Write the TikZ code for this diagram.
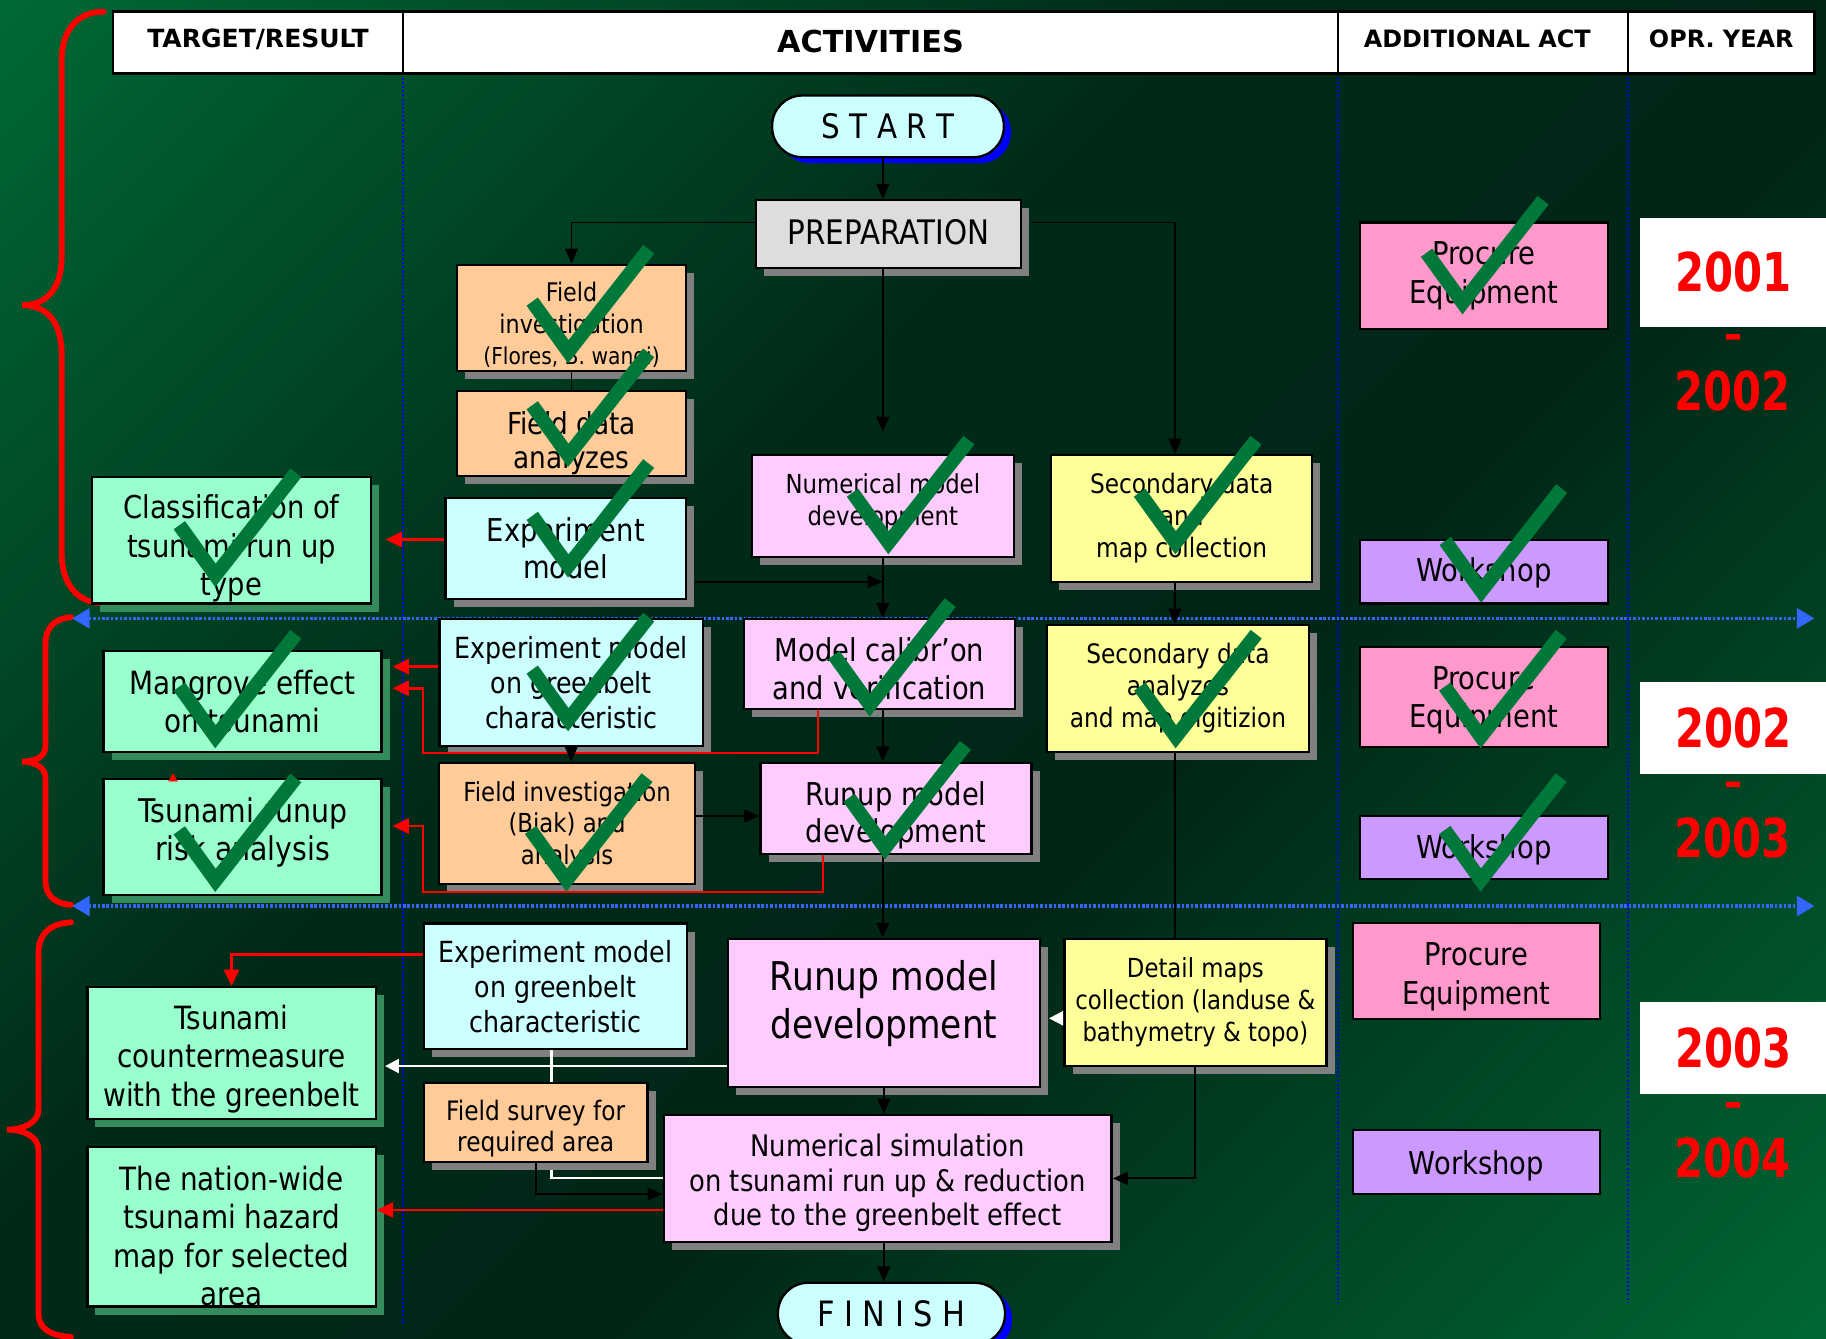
\documentclass[tikz,border=0pt]{standalone}
\usepackage{fontspec}
\setmainfont{DejaVu Sans}[FakeStretch=0.87]
\newfontfamily\hdfont{DejaVu Sans}
\newfontfamily\yrfont{DejaVu Sans}[FakeStretch=0.78]
\newfontfamily\dashfont{DejaVu Sans}[FakeStretch=1.4,FakeBold=4]
\usetikzlibrary{arrows.meta}
\definecolor{bgA}{RGB}{0,104,52}
\definecolor{bgM}{RGB}{0,42,24}
\definecolor{bgN}{RGB}{0,38,22}
\definecolor{bgB}{RGB}{0,102,50}
\definecolor{cyanbox}{RGB}{204,255,255}
\definecolor{orangebox}{RGB}{255,204,153}
\definecolor{pinkbox}{RGB}{255,204,255}
\definecolor{yellowbox}{RGB}{255,255,153}
\definecolor{greenbox}{RGB}{153,255,204}
\definecolor{procbox}{RGB}{255,153,204}
\definecolor{wsbox}{RGB}{204,153,255}
\definecolor{prepbox}{RGB}{221,221,221}
\definecolor{shgray}{RGB}{128,128,128}
\definecolor{shgreen}{RGB}{52,140,92}
\definecolor{chkgreen}{RGB}{0,120,58}
\definecolor{hblue}{RGB}{51,102,255}
\definecolor{vblue}{RGB}{0,0,255}
\definecolor{pillshadow}{RGB}{0,0,255}
\pgfdeclarehorizontalshading{bgshade}{100bp}{color(0bp)=(bgA); color(15bp)=(bgA); color(42bp)=(bgM); color(58bp)=(bgN); color(85bp)=(bgB); color(100bp)=(bgB)}
\newcommand\boxtext[4]{\node[inner sep=0pt,align=center,font=#2] (#1T) at ([yshift=#3]#1.center) {#4};}
\newcommand\fs[2]{\fontsize{#1}{#2}\selectfont}
\begin{document}
\begin{tikzpicture}[x=1pt,y=-1pt,
  base/.style={draw=black,line width=2pt,inner sep=0pt,align=center},
  gsh/.style={preaction={fill=shgray,transform canvas={shift={(7,7)}}}},
  tsh/.style={preaction={fill=shgreen,transform canvas={shift={(7,7)}}}},
  cyanb/.style={base,gsh,fill=cyanbox},
  orb/.style={base,gsh,fill=orangebox},
  pkb/.style={base,gsh,fill=pinkbox},
  ylb/.style={base,gsh,fill=yellowbox},
  gnb/.style={base,tsh,fill=greenbox},
  prb/.style={base,fill=procbox},
  wsb/.style={base,fill=wsbox},
  ppb/.style={base,gsh,fill=prepbox},
  pill/.style={base,fill=cyanbox,rounded corners=26pt,preaction={fill=pillshadow,transform canvas={shift={(6,5)}}}},
  hdr/.style={draw=black,line width=2pt,fill=white,inner sep=0pt},
  hdtxt/.style={inner sep=0pt,font=\hdfont\bfseries\fs{20.5}{24}},
  yrbox/.style={fill=white,inner sep=0pt,text=red,font=\yrfont\bfseries\fs{46}{50}},
  yrtxt/.style={text=red,inner sep=0pt,font=\yrfont\bfseries\fs{46}{50}},
  yrdash/.style={text=red,inner sep=0pt,font=\dashfont\bfseries\fs{26}{30}},
  blk/.style={draw=black,line width=1.6pt,-{Triangle[length=13pt,width=11pt]}},
  blkl/.style={draw=black,line width=1.6pt},
  redarr/.style={draw=red,line width=2.2pt,-{Triangle[length=14pt,width=13pt]}},
  whl/.style={draw=white,line width=2pt},
  wharr/.style={whl,-{Triangle[length=12pt,width=12pt]}},
  bracepath/.style={draw=red,line width=5pt,line cap=round},
  hsep/.style={draw=hblue,line width=3pt,dash pattern=on 2.2pt off 1.6pt,{Triangle[length=15pt,width=17pt]}-{Triangle[length=15pt,width=17pt]}},
  vsep/.style={draw=vblue,line width=1.8pt,dash pattern=on 1.8pt off 1.8pt},
  chkline/.style={draw=chkgreen,line width=12pt,line join=miter,line cap=butt},
  chk/.pic={\draw[chkline] (-31,-43) -- (0,0) -- (69,-88);}
]
\useasboundingbox (0,0) rectangle (1568,1149);
\shade[shading=bgshade,shading angle=-45] (0,0) rectangle (1568,1149);

% braces
\draw[bracepath] (89,10) .. controls (65,10) and (53,28) .. (53,51) -- (53,220)
  .. controls (53,248) and (40,262) .. (19,262) .. controls (40,262) and (53,276) .. (53,305)
  -- (53,475) .. controls (53,500) and (65,518) .. (89,518);
\draw[bracepath] (61,530) .. controls (46,531) and (39,540) .. (39,553) -- (39,641)
  .. controls (39,650) and (30,654) .. (19,654) .. controls (30,654) and (39,659) .. (39,668)
  -- (39,756) .. controls (39,768) and (46,776) .. (61,777);
\draw[bracepath] (61,792) .. controls (42,793) and (33,803) .. (33,818) -- (33,953)
  .. controls (33,964) and (20,970) .. (6,970) .. controls (20,970) and (33,976) .. (33,987)
  -- (33,1128) .. controls (33,1140) and (42,1147) .. (61,1148);

% separators
\draw[vsep] (346,63) -- (346,1136);
\draw[vsep] (1149,63) -- (1149,1119);
\draw[vsep] (1398,63) -- (1398,1119);
\draw[hsep] (62,531) -- (1558,531);
\draw[hsep] (62,778) -- (1558,778);

% header
\node[hdr,minimum width=249pt,minimum height=53pt] (h1) at (221.5,36.5) {};
\node[hdr,minimum width=803pt,minimum height=53pt] (h2) at (747.5,36.5) {};
\node[hdr,minimum width=249pt,minimum height=53pt] (h3) at (1273.5,36.5) {};
\node[hdr,minimum width=160pt,minimum height=53pt] (h4) at (1478,36.5) {};
\node[hdtxt,font=\hdfont\bfseries\fs{21.5}{24}] (h1T) at ([yshift=3pt]h1.center) {TARGET/RESULT};
\node[hdtxt,font=\hdfont\bfseries\fs{26}{30}] (h2T) at ([yshift=1pt]h2.center) {ACTIVITIES};
\node[hdtxt] (h3T) at ([yshift=3pt,xshift=-5pt]h3.center) {ADDITIONAL ACT};
\node[hdtxt] (h4T) at ([yshift=3pt]h4.center) {OPR. YEAR};

% years
\node[yrbox,minimum width=160pt,minimum height=93.4pt] (y1) at (1488.35,233.7) {2001};
\node[yrdash] (y1d) at (1488,292) {-};
\node[yrtxt] (y1b) at (1488,335.4) {2002};
\node[yrbox,minimum width=160pt,minimum height=79pt] (y2) at (1488.35,625.5) {2002};
\node[yrdash] (y2d) at (1488,676.4) {-};
\node[yrtxt] (y2b) at (1488,719.6) {2003};
\node[yrbox,minimum width=160pt,minimum height=79pt] (y3) at (1488.35,900.2) {2003};
\node[yrdash] (y3d) at (1488,951.6) {-};
\node[yrtxt] (y3b) at (1488,994.6) {2004};

% boxes row 1
\node[pill,minimum width=199pt,minimum height=53pt,font=\fs{29}{34}] (start) at (762.5,108.5) {S T A R T};
\node[ppb,minimum width=228pt,minimum height=58pt] (prep) at (763,201) {};
\node[orb,minimum width=196.4pt,minimum height=91pt] (fi1) at (490.8,272.9) {};
\node[orb,minimum width=196.4pt,minimum height=73pt] (fda) at (490.8,372.5) {};
\node[cyanb,minimum width=206.4pt,minimum height=86.5pt] (exp1) at (485.8,471) {};
\node[gnb,minimum width=239.6pt,minimum height=108.6pt] (cls) at (198.8,464) {};
\node[pkb,minimum width=225pt,minimum height=87.3pt] (num1) at (758.1,434.4) {};
\node[ylb,minimum width=224.1pt,minimum height=108.8pt] (sec1) at (1014.7,445.1) {};
\node[prb,minimum width=213.1pt,minimum height=91.7pt] (pro1) at (1274.2,236.9) {};
\node[wsb,minimum width=213.1pt,minimum height=54.6pt] (ws1) at (1274.2,491) {};

% row 2
\node[gnb,minimum width=238.6pt,minimum height=87.2pt] (mang) at (208.3,602.4) {};
\node[gnb,minimum width=238.6pt,minimum height=99.6pt] (trr) at (208.3,718.8) {};
\node[cyanb,minimum width=226.4pt,minimum height=108.7pt] (exp2) at (490.5,586) {};
\node[pkb,minimum width=232.6pt,minimum height=77.2pt] (cal) at (755.3,570.2) {};
\node[ylb,minimum width=225pt,minimum height=108.8pt] (sec2) at (1011.5,591.1) {};
\node[orb,minimum width=219.5pt,minimum height=104pt] (fib) at (487,707) {};
\node[pkb,minimum width=232.8pt,minimum height=78.4pt] (run2) at (769.4,694.2) {};
\node[prb,minimum width=213.1pt,minimum height=85.9pt] (pro2) at (1274.2,598.3) {};
\node[wsb,minimum width=213.1pt,minimum height=53.9pt] (ws2) at (1274.2,727.7) {};

% row 3
\node[cyanb,minimum width=226pt,minimum height=108pt] (exp3) at (477,847) {};
\node[pkb,minimum width=267.8pt,minimum height=126.8pt] (run3) at (758.9,869.8) {};
\node[ylb,minimum width=225pt,minimum height=108.7pt] (det) at (1026.5,860.8) {};
\node[gnb,minimum width=247.6pt,minimum height=113.4pt] (tcm) at (198.8,904.3) {};
\node[orb,minimum width=192pt,minimum height=68.3pt] (fsv) at (460,963.9) {};
\node[pkb,minimum width=384.5pt,minimum height=108.8pt] (nsim) at (762.3,1011.9) {};
\node[gnb,minimum width=247.6pt,minimum height=137pt] (nwm) at (198.8,1053.5) {};
\node[pill,minimum width=195pt,minimum height=53pt,font=\fs{30}{34}] (finish) at (765.5,1128) {F I N I S H};
\node[prb,minimum width=212.4pt,minimum height=82.7pt] (pro3) at (1267.8,833.7) {};
\node[wsb,minimum width=212.4pt,minimum height=54.9pt] (ws3) at (1267.8,997.9) {};

% box texts
\boxtext{prep}{\fs{29}{32}}{2pt}{PREPARATION}
\boxtext{fi1}{\fs{22}{27}}{-7pt}{Field\\investigation\\{\fs{20}{25}(Flores, B. wangi)}}
\boxtext{fda}{\fs{26}{30}}{-8pt}{Field data\\analyzes}
\boxtext{exp1}{\fs{27}{32}}{0pt}{Experiment\\model}
\boxtext{cls}{\fs{27}{33}}{-7pt}{Classification of\\tsunami run up\\type}
\boxtext{num1}{\fs{22.5}{28}}{3pt}{Numerical model\\development}
\boxtext{sec1}{\fs{23}{27.5}}{0pt}{Secondary data\\and\\map collection}
\boxtext{pro1}{\fs{27}{33}}{0pt}{Procure\\Equipment}
\boxtext{ws1}{\fs{27}{33}}{-1pt}{Workshop}
\boxtext{mang}{\fs{27.5}{33}}{0pt}{Mangrove effect\\on tsunami}
\boxtext{trr}{\fs{28}{33}}{4pt}{Tsunami runup\\risk analysis}
\boxtext{exp2}{\fs{25}{30}}{0pt}{Experiment model\\on greenbelt\\characteristic}
\boxtext{cal}{\fs{27}{33}}{-4pt}{Model calibr'on\\and verification}
\boxtext{sec2}{\fs{23}{27.5}}{0pt}{Secondary data\\analyzes\\and map digitizion}
\boxtext{fib}{\fs{22.5}{27}}{-2pt}{Field investigation\\(Biak) and\\analysis}
\boxtext{run2}{\fs{27}{32}}{-6pt}{Runup model\\development}
\boxtext{pro2}{\fs{27}{33}}{-3pt}{Procure\\Equipment}
\boxtext{ws2}{\fs{27}{33}}{-2pt}{Workshop}
\boxtext{exp3}{\fs{25}{30}}{0pt}{Experiment model\\on greenbelt\\characteristic}
\boxtext{run3}{\fs{34}{41}}{8pt}{Runup model\\development}
\boxtext{det}{\fs{22.5}{27.5}}{0pt}{Detail maps\\collection (landuse \&\\bathymetry \& topo)}
\boxtext{tcm}{\fs{27.5}{33}}{-5pt}{Tsunami\\countermeasure\\with the greenbelt}
\boxtext{fsv}{\fs{23}{27}}{-5pt}{Field survey for\\required area}
\boxtext{nsim}{\fs{25.5}{29.5}}{-4pt}{Numerical simulation\\on tsunami run up \& reduction\\due to the greenbelt effect}
\boxtext{nwm}{\fs{27.5}{33}}{-8pt}{The nation-wide\\tsunami hazard\\map for selected\\area}
\boxtext{pro3}{\fs{27}{33}}{-5pt}{Procure\\Equipment}
\boxtext{ws3}{\fs{27}{33}}{-3pt}{Workshop}

% connectors
\coordinate (colS) at (1009,0);
\draw[blk] (start.south -| num1.south) -- (num1.south |- prep.north);
\draw[blk] ([yshift=10pt]prep.west) -| (fi1.north);
\draw[blkl] (fi1.south) -- (fda.north);
\draw[blk,shorten >=19pt] (prep.south -| num1.north) -- (num1.north);
\draw[blk] ([yshift=10pt,xshift=7pt]prep.east) -| (colS |- sec1.north);
\coordinate (e1) at ([yshift=-28.5pt]exp1.east);
\draw[blk] ([xshift=7pt]e1) -- (e1 -| num1.south);
\draw[blk] (num1.south) -- (num1.south |- cal.north);
\draw[blk] (colS |- sec1.south) -- (colS |- sec2.north);
\coordinate (e2) at ([yshift=7.7pt]exp1.west);
\draw[redarr,shorten >=11.4pt] (e2) -- (e2 -| cls.east);
\coordinate (e3) at ([yshift=13.5pt]exp2.west);
\draw[redarr,shorten >=8.5pt] (e3) -- (e3 -| mang.east);
\draw[redarr] ([xshift=-52.8pt]cal.south) -- ++(0,36.7) -- ++(-339.2,0) |- ([yshift=11.4pt,xshift=8.5pt]mang.east);
\draw[blk] (exp2.south) -- (exp2.south |- fib.north);
\draw[blk] (num1.south |- cal.south) -- (num1.south |- run2.north);
\coordinate (r2w) at ([yshift=-6.5pt]run2.west);
\draw[blk] (fib.east |- r2w) -- (r2w);
\draw[redarr] ([xshift=-62.7pt]run2.south) -- ++(0,31.5) -- ++(-343.4,0) |- ([yshift=9.5pt,xshift=8.5pt]trr.east);
\draw[red,line width=1.5pt,-{Triangle[length=7pt,width=8pt]}] ([xshift=-59.7pt]trr.north) -- ++(0,-4);
\draw[blk] (run2.south -| num1.south) -- (num1.south |- run3.north);
\draw[blkl] (colS |- sec2.south) -- (colS |- det.north);
\coordinate (d1) at ([yshift=-13.6pt]det.west);
\draw[wharr,shorten >=7pt] (d1) -- (d1 -| run3.east);
\draw[blk] (det.south) |- (nsim.east);
\draw[redarr] ([yshift=27.5pt]exp3.west) -| (tcm.north);
\coordinate (r3w) at ([yshift=-45.6pt]run3.west);
\draw[wharr,shorten >=7pt] (r3w) -- (r3w -| tcm.east);
\coordinate (x3) at ([xshift=-3.4pt]exp3.south);
\draw[whl] (x3) -- (x3 |- fsv.north);
\draw[blk] (fsv.south) |- ([yshift=-13.4pt]nsim.west);
\draw[whl] ([xshift=13.6pt,yshift=-6pt]fsv.south) |- ([yshift=0.6pt]nsim.west);
\coordinate (n1) at ([yshift=-27.1pt]nsim.west);
\draw[redarr] (n1) -- (n1 -| nwm.east);
\draw[blk] (run3.south) -- (run3.south |- nsim.north);
\draw[blk] (nsim.south -| run3.south) -- (run3.south |- finish.north);

% check marks
\pic at (488,302) {chk};
\pic at (488,391) {chk};
\pic at (488,486) {chk};
\pic at (185,494) {chk};
\pic at (763,466) {chk};
\pic at (1009.5,466) {chk};
\pic at (1256,260) {chk};
\pic at (1272,507.5) {chk};
\pic at (185,632.6) {chk};
\pic at (185,756) {chk};
\pic at (488,618) {chk};
\pic at (747,605.4) {chk};
\pic at (1009.7,632.6) {chk};
\pic at (486.6,755.7) {chk};
\pic at (760,728) {chk};
\pic at (1271.6,632.6) {chk};
\pic at (1271.6,755.7) {chk};
\end{tikzpicture}
\end{document}
